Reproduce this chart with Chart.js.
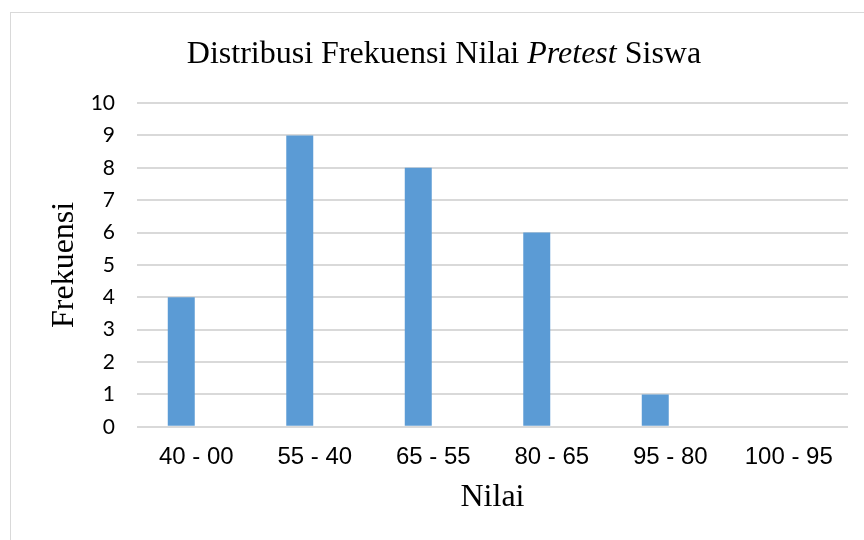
<!DOCTYPE html>
<html>
<head>
<meta charset="utf-8">
<script src="https://cdn.jsdelivr.net/npm/chart.js@4"></script>
<style>
  html, body { margin: 0; padding: 0; background: #fff; }
  #wrap { position: relative; width: 864px; height: 540px; overflow: hidden; }
  #frame { position: absolute; left: 10px; top: 12px; width: 900px; height: 600px;
           border-left: 1px solid #d9d9d9; border-top: 1px solid #d9d9d9; }
  #judul { position: absolute; left: 0; top: 36px; width: 888px; text-align: center;
           font-family: "Liberation Serif", "Times New Roman", serif; font-size: 32px;
           line-height: 32px; color: #000; white-space: nowrap; }
  canvas { position: absolute; left: 0; top: 0; }
</style>
</head>
<body>
<div id="wrap">
  <div id="frame"></div>
  <canvas id="chart" width="864" height="540"></canvas>
  <div id="judul">Distribusi Frekuensi Nilai <i>Pretest</i> Siswa</div>
</div>
<script>
const kategori = ["40 - 00", "55 - 40", "65 - 55", "80 - 65", "95 - 80", "100 - 95"];
const frekuensi = [4, 9, 8, 6, 1, 0];
// excel chart had an empty second series, that's why bars sit left of center
const seriKosong = [null, null, null, null, null, null];
const yTicks = [0, 1, 2, 3, 4, 5, 6, 7, 8, 9, 10];

const ctx = document.getElementById("chart").getContext("2d");

new Chart(ctx, {
    type: 'bar',
    data: {
        labels: kategori,
        datasets: [{
            label: "Frekuensi",
            data: frekuensi,
            backgroundColor: "#5B9BD5",
            borderWidth: 0,
            categoryPercentage: 0.506,
            barPercentage: 0.9
        }, {
            label: "",
            data: seriKosong,
            backgroundColor: "#ED7D31",
            borderWidth: 0,
            categoryPercentage: 0.506,
            barPercentage: 0.9
        }]
    },
    options: {
        responsive: false,
        animation: false,
        layout: {
            padding: { left: 45, top: 103, right: 16, bottom: 23 }
        },
        plugins: {
            legend: { display: false },
            tooltip: { enabled: false }
        },
        scales: {
            x: {
                grid: { display: false, drawTicks: false },
                border: { display: false },
                ticks: {
                    color: '#000',
                    padding: 16,
                    font: { family: "'Liberation Sans', Arial, sans-serif", size: 24 }
                },
                title: {
                    display: true,
                    text: 'Nilai',
                    color: '#000',
                    padding: { top: -9, bottom: 0 },
                    font: { family: "'Liberation Serif', 'Times New Roman', serif", size: 32 }
                }
            },
            y: {
                min: 0,
                max: 10,
                afterBuildTicks: axis => {
                    axis.ticks = yTicks.map(v => ({ value: v }));
                },
                afterFit: axis => {
                    axis.width = 137 - 45;
                },
                grid: { color: '#d9d9d9', lineWidth: 2, drawTicks: false },
                border: { display: false },
                ticks: {
                    color: '#000',
                    padding: 22,
                    font: { family: "Lato, 'Open Sans', sans-serif", size: 21 }
                },
                title: {
                    display: true,
                    text: 'Frekuensi',
                    color: '#000',
                    padding: { top: 0, bottom: 0 },
                    font: { family: "'Liberation Serif', 'Times New Roman', serif", size: 32 }
                }
            }
        }
    }
});
</script>
</body>
</html>
